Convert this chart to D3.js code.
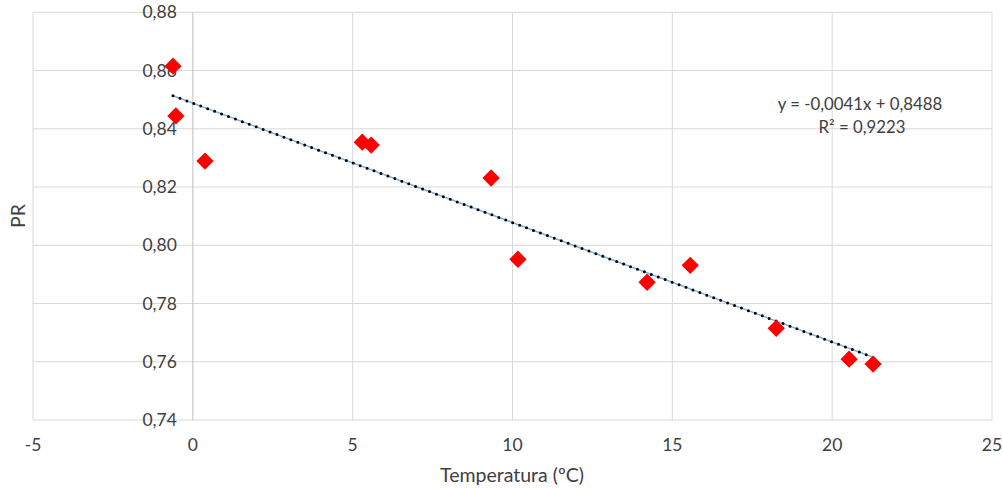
<!DOCTYPE html>
<html><head><meta charset="utf-8">
<script src="https://cdn.jsdelivr.net/npm/d3@7"></script>
<style>body{margin:0;background:#fff}svg{display:block}text{font-family:Lato,"Open Sans",sans-serif;fill:#404040}</style>
</head><body><svg id="c" width="1003" height="488"></svg>
<script>
const temps = [-0.62, -0.53, 0.38, 5.30, 5.58, 9.33, 10.17, 14.21, 15.56, 18.25, 20.53, 21.28];
const prs   = [0.8615, 0.8444, 0.8289, 0.8354, 0.8344, 0.8231, 0.7952, 0.7873, 0.7931, 0.7715, 0.7609, 0.7592];
const xTicks = [-5, 0, 5, 10, 15, 20, 25];
const yTicks = [0.74, 0.76, 0.78, 0.80, 0.82, 0.84, 0.86, 0.88];
const slope = -0.0041, intercept = 0.8488;
const eqText = "y = -0,0041x + 0,8488";
const r2Text = "R² = 0,9223";
const xTitle = "Temperatura (ºC)", yTitle = "PR";

const svg = d3.select("#c");
const x = d3.scaleLinear().domain([-5, 25]).range([33, 992]);
const y = d3.scaleLinear().domain([0.74, 0.88]).range([420, 12.3]);
const fmt = v => d3.format(".2f")(v).replace(".", ",");

// gridlines
svg.append("g").selectAll("line").data(yTicks).join("line")
  .attr("x1", x(-5)).attr("x2", x(25)).attr("y1", d => y(d)).attr("y2", d => y(d))
  .attr("stroke", "#d9d9d9").attr("stroke-width", 1);
svg.append("g").selectAll("line").data(xTicks).join("line")
  .attr("y1", y(0.74)).attr("y2", y(0.88)).attr("x1", d => x(d)).attr("x2", d => x(d))
  .attr("stroke", d => d === 0 ? "#bfbfbf" : "#d9d9d9").attr("stroke-width", 1);

// y tick labels next to x=0 axis
svg.append("g").selectAll("text").data(yTicks).join("text")
  .attr("x", x(0) - 16).attr("y", d => y(d)).attr("dy", "0.35em")
  .attr("text-anchor", "end").attr("font-size", 17.5).text(fmt);
// x tick labels
svg.append("g").selectAll("text").data(xTicks).join("text")
  .attr("x", d => x(d)).attr("y", 445).attr("dy", "0.35em")
  .attr("text-anchor", "middle").attr("font-size", 17.5).text(d => d);

// trendline
const tx = d3.extent(temps);
const tl = tx.map(t => [x(t), y(slope * t + intercept)]);
const line = d3.line();
svg.append("path").attr("d", line(tl)).attr("stroke", "#7fb2e0").attr("stroke-width", 1.6).attr("fill", "none");
svg.append("path").attr("d", line(tl)).attr("stroke", "#000").attr("stroke-width", 3)
  .attr("stroke-linecap", "round").attr("stroke-dasharray", "0 7.4").attr("fill", "none");

// points
svg.append("g").selectAll("path").data(temps).join("path")
  .attr("d", d3.symbol(d3.symbolDiamond2, 190)())
  .attr("transform", (d, i) => `translate(${x(d)},${y(prs[i])})`)
  .attr("fill", "#ff0000");

// equation
svg.append("text").attr("x", 860).attr("y", 104).attr("dy", "0.35em").attr("text-anchor", "middle")
  .attr("font-size", 16.8).text(eqText);
svg.append("text").attr("x", 862).attr("y", 127).attr("dy", "0.35em").attr("text-anchor", "middle")
  .attr("font-size", 16.8).text(r2Text);

// titles
svg.append("text").attr("x", 512).attr("y", 475).attr("dy", "0.35em").attr("text-anchor", "middle")
  .attr("font-size", 19.5).text(xTitle);
svg.append("text").attr("transform", "translate(18,216) rotate(-90)").attr("dy", "0.35em")
  .attr("text-anchor", "middle").attr("font-size", 19.5).text(yTitle);
</script></body></html>
